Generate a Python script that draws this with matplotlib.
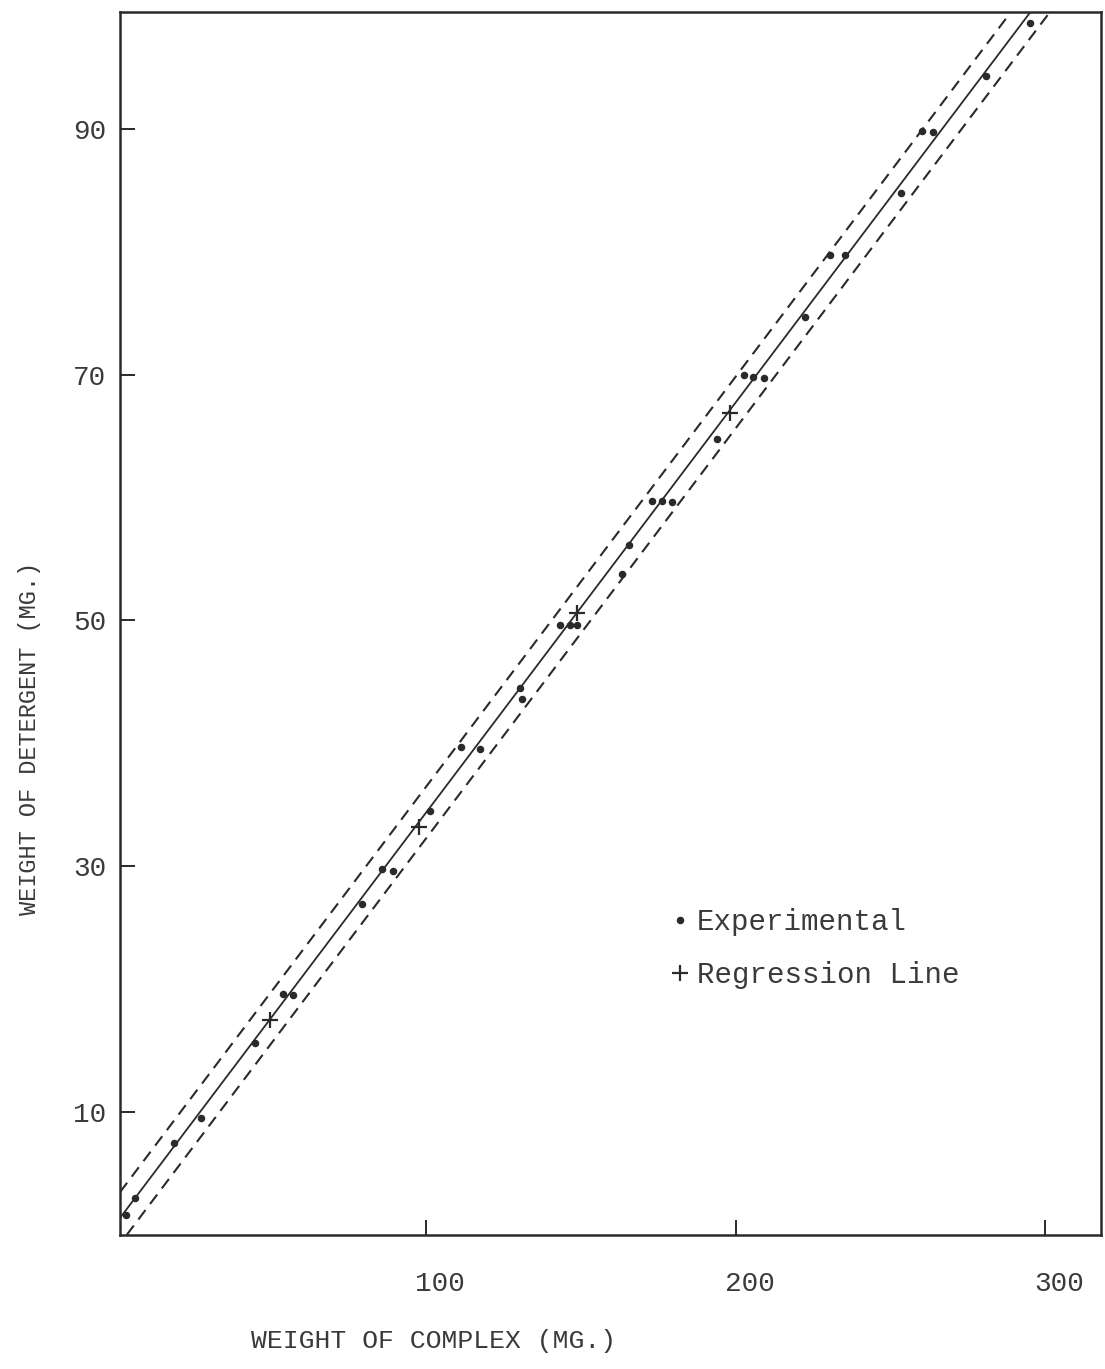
import matplotlib
matplotlib.use("Agg")
import matplotlib.pyplot as plt
import matplotlib.transforms as mtransforms
from matplotlib.lines import Line2D

# ---- data ----
exp_x = [3.0, 6.0, 18.5, 27.2, 44.7, 53.7, 57.0, 79.2, 85.7, 89.2, 101.1,
         111.3, 117.4, 130.4, 130.9, 143.3, 146.5, 148.8, 163.2, 165.4,
         172.9, 176.2, 179.4, 193.9, 202.5, 205.5, 209.0, 222.5, 230.3,
         235.4, 253.5, 260.2, 263.7, 280.8, 295.2]
exp_y = [1.6, 3.0, 7.5, 9.5, 15.6, 19.6, 19.5, 26.9, 29.8, 29.6, 34.5,
         39.7, 39.5, 44.5, 43.6, 49.6, 49.6, 49.6, 53.8, 56.1,
         59.7, 59.7, 59.6, 64.8, 70.0, 69.8, 69.7, 74.7, 79.7,
         79.7, 84.8, 89.8, 89.7, 94.3, 98.6]

reg_x = [49.4, 97.5, 148.7, 198.0]
reg_y = [17.5, 33.2, 50.6, 66.9]

reg_slope = 0.3335
reg_intercept = 1.05
band_offset = 2.1

x_ticks = [100, 200, 300]
y_ticks = [10, 30, 50, 70, 90]
x_label = "WEIGHT OF COMPLEX (MG.)"
y_label = "WEIGHT OF DETERGENT (MG.)"
legend_labels = ["Experimental", "Regression Line"]

# ---- drawing ----
FONT = ["Liberation Mono", "DejaVu Sans Mono"]
INK = "#2a2a2a"
TXT = "#3a3a3a"
plt.rcParams["font.family"] = FONT
plt.rcParams["lines.scale_dashes"] = False

W, H = 1105, 1369
fig = plt.figure(figsize=(W / 100, H / 100), dpi=100)
left, right, top, bottom = 120, 1101, 12, 1235
ax = fig.add_axes([left / W, 1 - bottom / H, (right - left) / W, (bottom - top) / H])

ax.set_xlim(1, 318)
ax.set_ylim(0, 99.5)

# regression line and confidence band
ax.axline((0, reg_intercept), slope=reg_slope, color=INK, lw=1.3)
for sgn in (1, -1):
    ax.axline((0, reg_intercept + sgn * band_offset), slope=reg_slope,
              color=INK, lw=1.5, dashes=(8.5, 5.5))

ax.plot(exp_x, exp_y, linestyle="none", marker="o", ms=4.4, color=INK, mec=INK)
ax.plot(reg_x, reg_y, linestyle="none", marker="+", ms=12, mew=1.6, color=INK)

for s in ax.spines.values():
    s.set_linewidth(1.8)
    s.set_color(INK)

ax.set_xticks(x_ticks)
ax.set_yticks(y_ticks)
ax.tick_params(direction="in", length=11, width=1.4, color=INK,
               labelsize=20, labelcolor=TXT)
ax.tick_params(axis="x", pad=26)
ax.tick_params(axis="y", pad=10)
offset = mtransforms.ScaledTranslation(14 / 100, 0, fig.dpi_scale_trans)
for lab in ax.get_xticklabels():
    lab.set_transform(lab.get_transform() + offset)

ax.set_xlabel(x_label, fontsize=19, color=TXT)
ax.xaxis.set_label_coords((434 - left) / (right - left), -(1341 - bottom) / (bottom - top))
ax.set_ylabel(y_label, fontsize=17, color=TXT)
ax.yaxis.set_label_coords(-(120 - 30) / (right - left), (bottom - 738) / (bottom - top))
ax.xaxis.label.set_va("center")
ax.yaxis.label.set_va("center")

handles = [Line2D([], [], linestyle="none", marker="o", ms=4.4, color=INK),
           Line2D([], [], linestyle="none", marker="+", ms=12, mew=1.6, color=INK)]
ax.legend(handles, legend_labels, loc="upper left",
          bbox_to_anchor=((672 - left) / (right - left), (bottom - 908) / (bottom - top)),
          frameon=False, fontsize=21, handlelength=0.55, handletextpad=0.3,
          labelspacing=0.85, borderpad=0, borderaxespad=0, labelcolor=TXT)

fig.savefig("out.png", dpi=100, facecolor="white")
